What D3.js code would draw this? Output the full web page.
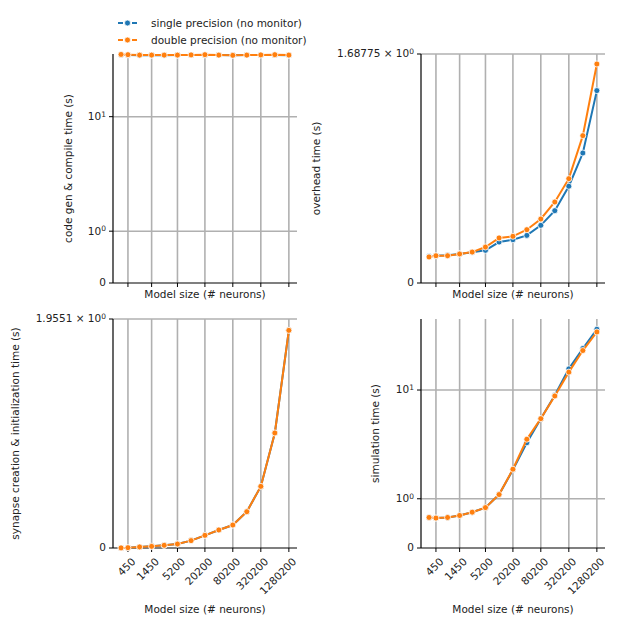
<!DOCTYPE html>
<html><head><meta charset="utf-8">
<script src="https://cdn.jsdelivr.net/npm/d3@7"></script>
<style>body{margin:0;background:#fff}text{font-family:"DejaVu Sans";fill:#222}</style>
</head><body><svg id="c" width="630" height="630"></svg>
<script>
const sizes=[320,450,800,1450,2700,5200,10200,20200,40200,80200,160200,320200,640200,1280200];
const xTicks=[450,1450,5200,20200,80200,320200,1280200];
const series=["single precision (no monitor)","double precision (no monitor)"];
const compileS=[27.7,27.6,27.4,27.5,27.4,27.5,27.6,27.6,27.5,27.4,27.5,27.6,27.6,27.4];
const compileD=[27.8,27.7,27.5,27.5,27.5,27.5,27.6,27.7,27.5,27.4,27.5,27.6,27.7,27.5];
const overS=[0.197,0.201,0.204,0.214,0.226,0.241,0.302,0.319,0.351,0.425,0.533,0.713,0.958,1.418];
const overD=[0.192,0.201,0.201,0.214,0.228,0.265,0.332,0.344,0.393,0.472,0.597,0.769,1.086,1.614];
const synS=[0.001,0.003,0.009,0.014,0.023,0.034,0.063,0.108,0.154,0.196,0.310,0.526,0.982,1.858];
const synD=[0.001,0.003,0.009,0.014,0.023,0.034,0.063,0.108,0.154,0.196,0.310,0.526,0.982,1.858];
const simS=[0.523,0.510,0.523,0.567,0.643,0.756,1.13,2.10,3.73,5.94,9.1,14.5,20.6,28.6];
const simD=[0.523,0.510,0.523,0.567,0.643,0.756,1.13,2.13,4.00,5.94,8.99,13.7,19.9,27.3];
const colors=["#1f77b4","#ff7f0e"];
const svg=d3.select("#c");
const panels=[
 {x:113,y:54,ylab:"code gen & compile time (s)",d:[compileS,compileD],type:"sym",max:28,ticks:[0,1,10],lab:false,lx:-41},
 {x:421,y:54,ylab:"overhead time (s)",d:[overS,overD],type:"lin",max:1.68775,ticks:[0,1.68775],lab:false,lx:-101},
 {x:113,y:319,ylab:"synapse creation & initialization time (s)",d:[synS,synD],type:"lin",max:1.9551,ticks:[0,1.9551],lab:true,lx:-94},
 {x:421,y:319,ylab:"simulation time (s)",d:[simS,simD],type:"sym",max:34,ticks:[0,1,10],lab:true,lx:-42}];
const W=184,H=229,FS=10.5;
function tickLab(g,v,type){
  const t=g.append("text").attr("text-anchor","end").attr("dy","0.32em").attr("font-size",FS);
  if(v===0){t.text("0");return;}
  if(type==="sym"){t.text("10");t.append("tspan").attr("font-size",7.5).attr("dy","-0.45em").text(v===1?"0":"1");return;}
  t.text(v+" \u00d7 10");t.append("tspan").attr("font-size",7.5).attr("dy","-0.45em").text("0");
}
panels.forEach(p=>{
  const g=svg.append("g").attr("transform",`translate(${p.x},${p.y})`);
  const x=d3.scaleLog().domain([215,1914000]).range([0,W]);
  const y=(p.type==="sym"?d3.scaleSymlog().constant(0.8):d3.scaleLinear()).domain([0,p.max]).range([H,0]);
  xTicks.forEach(t=>g.append("line").attr("x1",x(t)).attr("x2",x(t)).attr("y1",0).attr("y2",H).attr("stroke","#b0b0b0").attr("stroke-width",1.6));
  p.ticks.forEach(t=>{ if(t>0) g.append("line").attr("x1",0).attr("x2",W).attr("y1",y(t)).attr("y2",y(t)).attr("stroke","#b0b0b0").attr("stroke-width",1.6);
    g.append("line").attr("x1",-4).attr("x2",0).attr("y1",y(t)).attr("y2",y(t)).attr("stroke","#000");
    const tg=g.append("g").attr("transform",`translate(-7,${y(t)})`); tickLab(tg,t,p.type);});
  g.append("line").attr("x1",0).attr("x2",0).attr("y1",0).attr("y2",H).attr("stroke","#000").attr("stroke-width",1.2);
  g.append("line").attr("x1",0).attr("x2",W).attr("y1",H).attr("y2",H).attr("stroke","#000").attr("stroke-width",1.2);
  xTicks.forEach(t=>{g.append("line").attr("x1",x(t)).attr("x2",x(t)).attr("y1",H).attr("y2",H+4).attr("stroke","#000");
    if(p.lab) g.append("text").attr("font-size",FS).attr("text-anchor","end").attr("transform",`translate(${x(t)+3},${H+9}) rotate(-45)`).attr("dy","0.7em").text(t);});
  g.append("text").attr("font-size",FS).attr("text-anchor","middle").attr("x",W/2).attr("y",p.lab?H+65:H+15).text("Model size (# neurons)");
  g.append("text").attr("font-size",FS).attr("text-anchor","middle").attr("transform",`translate(${p.lx},${H/2}) rotate(-90)`).text(p.ylab);
  const line=d3.line().x((d,i)=>x(sizes[i])).y(d=>y(d));
  p.d.forEach((vals,k)=>{
    g.append("path").datum(vals).attr("d",line).attr("fill","none").attr("stroke",colors[k]).attr("stroke-width",2);
    g.selectAll(null).data(vals).enter().append("circle").attr("cx",(d,i)=>x(sizes[i])).attr("cy",d=>y(d)).attr("r",3).attr("fill",colors[k]).attr("stroke","#fff").attr("stroke-width",0.8);
  });
});
const lg=svg.append("g").attr("transform","translate(118,23)");
series.forEach((s,k)=>{
  const r=lg.append("g").attr("transform",`translate(0,${k*17})`);
  r.append("line").attr("x1",0).attr("x2",19).attr("stroke",colors[k]).attr("stroke-width",2.2).attr("stroke-dasharray","5,2");
  r.append("circle").attr("cx",9.5).attr("r",3).attr("fill",colors[k]).attr("stroke","#fff").attr("stroke-width",0.8);
  r.append("text").attr("x",33).attr("dy","0.35em").attr("font-size",FS).text(s);
});
</script></body></html>
